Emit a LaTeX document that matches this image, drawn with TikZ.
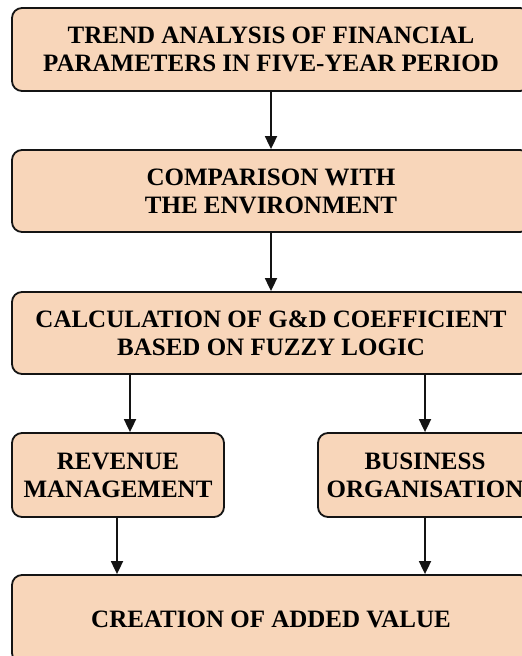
\documentclass[tikz,border=0pt]{standalone}
\usepackage{fontspec}
\setmainfont{Liberation Serif}
\usepackage{tikz}
\usetikzlibrary{arrows.meta,positioning}
\definecolor{boxpeach}{RGB}{248, 214, 186}
\definecolor{boxdark}{RGB}{20, 20, 20}
\tikzstyle{stepbox}=[shape=rectangle, rounded corners=10pt, draw=boxdark, fill=boxpeach, line width=1.8pt, align=center, font=\fontsize{25}{28}\selectfont\bfseries, inner sep=0pt]
\tikzstyle{arrow}=[line width=1.8pt, -{Triangle[width=12pt,length=13pt]}, color=boxdark]

\begin{document}
\begin{tikzpicture}[x=1pt, y=-1pt]
    \useasboundingbox (0,0) rectangle (522,656);
    % Main steps
    \node[stepbox, minimum width=518pt, minimum height=83pt] (trend) at (271,49.5) {TREND ANALYSIS OF FINANCIAL\\PARAMETERS IN FIVE-YEAR PERIOD};
    \node[stepbox, minimum width=518pt, minimum height=82pt] (compare) at (271,191) {COMPARISON WITH\\THE ENVIRONMENT};
    \node[stepbox, minimum width=518pt, minimum height=82pt] (calc) at (271,333) {CALCULATION OF G\&D COEFFICIENT\\BASED ON FUZZY LOGIC};

    % Two branches
    \node[stepbox, minimum width=212pt, minimum height=84pt] (revenue) at (118,475) {REVENUE\\MANAGEMENT};
    \node[stepbox, minimum width=214pt, minimum height=84pt] (business) at (425,475) {BUSINESS\\ORGANISATION};

    % Result
    \node[stepbox, minimum width=518pt, minimum height=88pt] (value) at (271,619) {CREATION OF ADDED VALUE};

    % Arrows
    \draw[arrow] (trend) -- (compare);
    \draw[arrow] (compare) -- (calc);
    \draw[arrow] ([xshift=12pt]revenue.north |- calc.south) -- ([xshift=12pt]revenue.north);
    \draw[arrow] (calc.south -| business.north) -- (business.north);
    \draw[arrow] ([xshift=-1pt]revenue.south) -- ([xshift=-1pt]revenue.south |- value.north);
    \draw[arrow] (business.south) -- (business.south |- value.north);

\end{tikzpicture}
\end{document}
